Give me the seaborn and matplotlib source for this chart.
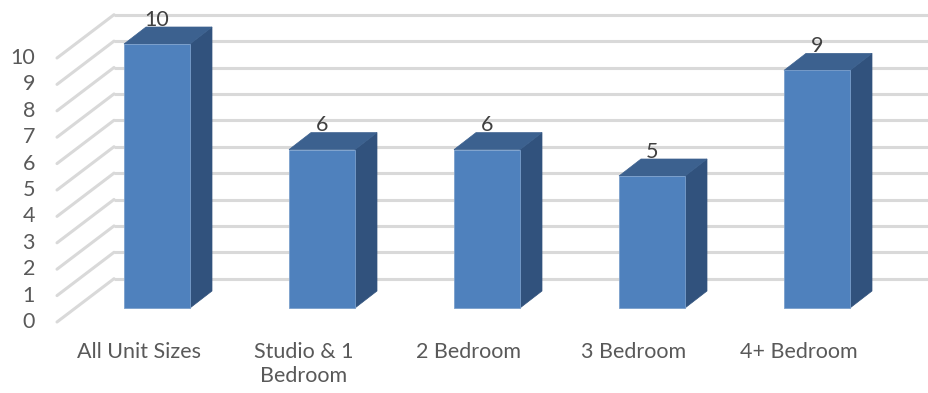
import matplotlib
matplotlib.use("Agg")
import matplotlib.pyplot as plt
from matplotlib.patches import Polygon
import seaborn as sns
import pandas as pd

categories = ["All Unit Sizes", "Studio & 1\nBedroom", "2 Bedroom", "3 Bedroom", "4+ Bedroom"]
values = [10, 6, 6, 5, 9]
tick_values = list(range(0, 11))

df = pd.DataFrame({"category": categories, "value": values})

sns.set_theme(style="white")
plt.rcParams["font.family"] = ["Lato", "DejaVu Sans"]

W, H = 929, 393
fig = plt.figure(figsize=(W / 100, H / 100), dpi=100)
ax = fig.add_axes([0, 0, 1, 1])

# pixel geometry of the oblique projection
px_x = 165.0   # pixels per category step
px_y = 26.4    # pixels per value unit
x0_px, y0_px = 157.0, 308.0  # first bar centre / baseline in pixels
xlim = (-x0_px / px_x, (W - x0_px) / px_x)
ylim = ((y0_px - H) / px_y, y0_px / px_y)

# depth offsets (data units) relative to the bar front plane
back_dx, back_dy = 39 / px_x, 29.3 / px_y
front_dx, front_dy = -18 / px_x, -14 / px_y
bar_dx, bar_dy = 22 / px_x, 17 / px_y
wall_x = -82 / px_x

grid_col = "#d9d9d9"
text_col = "#595959"
fs = 15.5

front_col = "#4f81bd"
top_col = "#3c618f"
side_col = "#31527d"

sns.barplot(data=df, x="category", y="value", ax=ax, width=0.4,
            color=front_col, saturation=1, edgecolor="#7a9fcc",
            linewidth=0.6, zorder=3)
ax.set_xlim(*xlim)
ax.set_ylim(*ylim)
ax.axis("off")

# back wall and side wall gridlines with value labels
for v in tick_values:
    ax.plot([wall_x + back_dx, xlim[1]], [v + back_dy, v + back_dy],
            color=grid_col, lw=2.2, solid_capstyle="butt", zorder=1)
    ax.plot([wall_x + front_dx, wall_x + back_dx], [v + front_dy, v + back_dy],
            color=grid_col, lw=2.2, solid_capstyle="round", zorder=1)
    ax.text(wall_x + front_dx - 22 / px_x, v + front_dy, str(v),
            ha="right", va="center", fontsize=fs, color=text_col)

for bar, v in zip(ax.patches, values):
    x_l = bar.get_x()
    x_r = x_l + bar.get_width()
    top = bar.get_height()
    side = Polygon([(x_r, 0), (x_r + bar_dx, bar_dy), (x_r + bar_dx, top + bar_dy), (x_r, top)],
                   closed=True, facecolor=side_col, edgecolor=side_col, lw=0.5, zorder=2)
    cap = Polygon([(x_l, top), (x_l + bar_dx, top + bar_dy), (x_r + bar_dx, top + bar_dy), (x_r, top)],
                  closed=True, facecolor=top_col, edgecolor=top_col, lw=0.5, zorder=2)
    ax.add_patch(side)
    ax.add_patch(cap)
    ax.text(x_l + bar.get_width() / 2, top + 0.92, f"{v}", ha="center", va="center",
            fontsize=fs, color="#404040", zorder=4)

# category labels along the front floor edge
for i, c in enumerate(categories):
    ax.text(i + front_dx, front_dy - 20 / px_y, c, ha="center", va="top",
            fontsize=fs, color=text_col, linespacing=1.25)

fig.savefig("out.png", dpi=100)
